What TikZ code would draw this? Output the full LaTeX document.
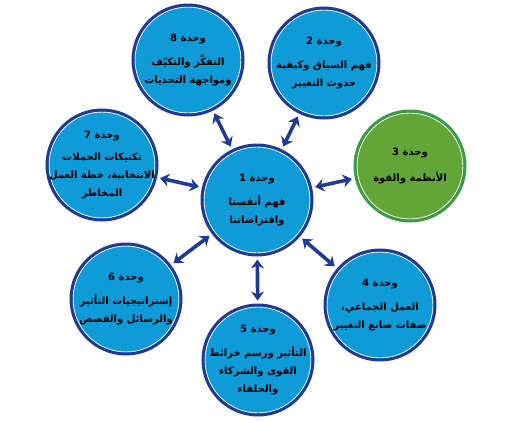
\documentclass[tikz,border=0pt]{standalone}
\usepackage{fontspec}
\newfontfamily\arabicfont[Script=Arabic]{DejaVu Sans}
\TeXXeTstate=1
\usetikzlibrary{arrows.meta}
\definecolor{unitblue}{HTML}{0E9BD7}
\definecolor{ringblue}{HTML}{213A94}
\definecolor{unitgreen}{HTML}{62A638}
\definecolor{ringgreen}{HTML}{3F9A48}
\newcommand{\artxt}[1]{\beginR #1\endR}

\begin{document}
\begin{tikzpicture}[x=1pt, y=-1pt,
  topic/.style={circle, fill=unitblue, draw=ringblue, line width=3pt, minimum size=110pt, inner sep=-30pt, align=center,
    font=\arabicfont\bfseries\fontsize{10}{18}\selectfont,
    path picture={\draw[white, line width=0.9pt] (path picture bounding box.center) circle (53pt);}},
  greentopic/.style={topic, fill=unitgreen, draw=ringgreen},
  link/.style={<->, draw=ringblue, line width=3.6pt, shorten <=3pt, shorten >=3pt},
  >={Stealth[length=9pt,width=13pt]}]
  \useasboundingbox (0,0) rectangle (512,421);
  \node[topic] (u1) at (257,200) {\artxt{وحدة 1}\\[6pt]\artxt{فهم أنفسنا}\\\artxt{وافتراضاتنا}};
  \node[topic] (u2) at (324,63) {\artxt{وحدة 2}\\[6pt]\artxt{فهم السياق وكيفية}\\\artxt{حدوث التغيير}};
  \node[greentopic] (u3) at (410,166) {\artxt{وحدة 3}\\[8pt]\artxt{الأنظمة والقوة}};
  \node[topic] (u4) at (380,305) {\artxt{وحدة 4}\\[6pt]\artxt{العمل الجماعي،}\\\artxt{صفات صانع التغيير}};
  \node[topic] (u5) at (258,360) {\artxt{وحدة 5}\\[6pt]\artxt{التأثير ورسم خرائط}\\\artxt{القوى والشركاء}\\\artxt{والحلفاء}};
  \node[topic] (u6) at (126,299) {\artxt{وحدة 6}\\[6pt]\artxt{إستراتيجيات التأثير}\\\artxt{والرسائل والقصص}};
  \node[topic] (u7) at (102,165) {\artxt{وحدة 7}\\[4pt]\artxt{تكتيكات الحملات}\\\artxt{الانتخابية، خطة العمل}\\\artxt{المخاطر}};
  \node[topic] (u8) at (188,60) {\artxt{وحدة 8}\\[6pt]\artxt{التفكّر والتكيّف}\\\artxt{ومواجهة التحديات}};
  \foreach \k in {2,...,8}
    \draw[link] (u1) -- (u\k);
\end{tikzpicture}
\end{document}
